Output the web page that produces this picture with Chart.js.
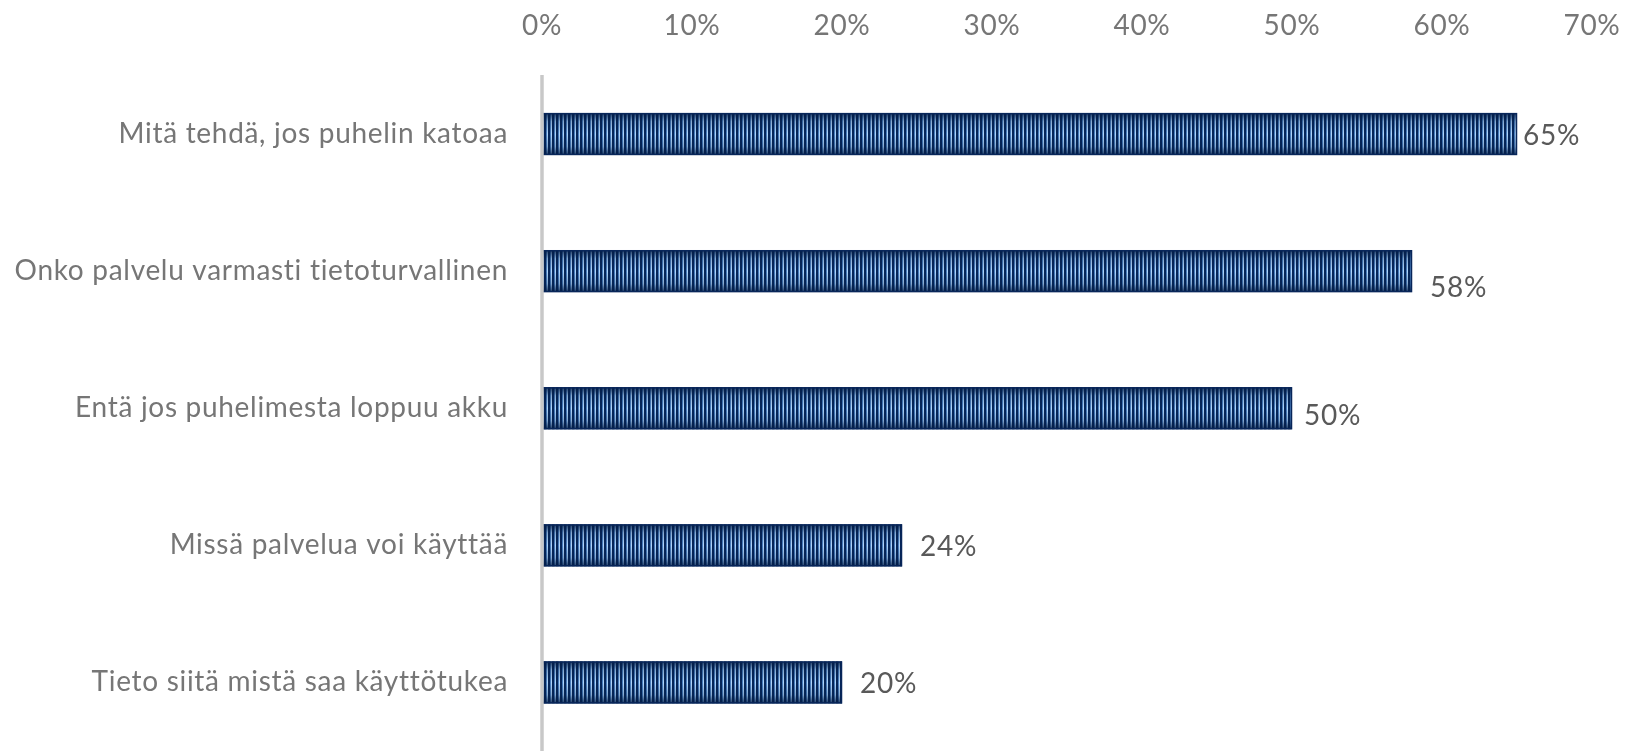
<!DOCTYPE html>
<html>
<head>
<meta charset="utf-8">
<script src="https://cdn.jsdelivr.net/npm/chart.js@4/dist/chart.umd.min.js"></script>
<style>
  html, body { margin: 0; padding: 0; background: #ffffff; }
  #wrap { width: 1644px; height: 751px; position: relative; }
</style>
</head>
<body>
<div id="wrap"><canvas id="c" width="1644" height="751"></canvas></div>
<script>
const categories = [
  "Mitä tehdä, jos puhelin katoaa",
  "Onko palvelu varmasti tietoturvallinen",
  "Entä jos puhelimesta loppuu akku",
  "Missä palvelua voi käyttää",
  "Tieto siitä mistä saa käyttötukea"
];
const values = [65, 58, 50, 24, 20];
const tickValues = [0, 10, 20, 30, 40, 50, 60, 70];

const FONT = "Lato, 'Open Sans', sans-serif";
const FONT_SIZE = 28;
const LETTER_SPACING = '0.7px';

// stripe pattern
function makeStripes() {
  const p = document.createElement('canvas');
  p.width = 4; p.height = 1;
  const g = p.getContext('2d');
  g.fillStyle = '#05265a';
  g.fillRect(0, 0, 4, 1);
  g.fillStyle = '#4a7fbf';
  g.fillRect(2, 0, 1, 1);
  g.fillStyle = '#b0d6fb';
  g.fillRect(3, 0, 1, 1);
  return document.getElementById('c').getContext('2d').createPattern(p, 'repeat');
}
const stripes = makeStripes();

// data labels offsets (style, in px relative to bar end / centre)
const labelStyle = { dx: [6, 18, 12, 18, 18], dyBaseline: [11, 26, 17, 11, 11] };

const spacingPlugin = {
  id: 'spacing',
  beforeDraw(chart) { chart.ctx.letterSpacing = LETTER_SPACING; }
};

const shadePlugin = {
  id: 'shade',
  afterDatasetsDraw(chart) {
    const ctx = chart.ctx;
    const meta = chart.getDatasetMeta(0);
    meta.data.forEach((bar, i) => {
      const p = bar.getProps(['x', 'y', 'base', 'height'], true);
      const top = p.y - p.height / 2, bot = p.y + p.height / 2;
      const left = Math.min(p.base, p.x), right = Math.max(p.base, p.x);
      const gr = ctx.createLinearGradient(0, top, 0, bot);
      gr.addColorStop(0, 'rgba(5,30,70,0.85)');
      gr.addColorStop(0.2, 'rgba(5,30,70,0.25)');
      gr.addColorStop(0.5, 'rgba(5,30,70,0)');
      gr.addColorStop(0.8, 'rgba(5,30,70,0.25)');
      gr.addColorStop(1, 'rgba(5,30,70,0.85)');
      ctx.save();
      ctx.fillStyle = gr;
      ctx.fillRect(left, top, right - left, bot - top);
      ctx.strokeStyle = '#08265a';
      ctx.lineWidth = 1.5;
      ctx.strokeRect(left + 0.5, top + 0.5, right - left - 1, bot - top - 1);
      ctx.restore();
    });
    // data labels
    ctx.save();
    ctx.letterSpacing = LETTER_SPACING;
    ctx.font = FONT_SIZE + 'px ' + FONT;
    ctx.fillStyle = '#595959';
    ctx.textAlign = 'left';
    ctx.textBaseline = 'alphabetic';
    meta.data.forEach((bar, i) => {
      const p = bar.getProps(['x', 'y'], true);
      ctx.fillText(values[i] + '%', p.x + labelStyle.dx[i], p.y + labelStyle.dyBaseline[i]);
    });
    ctx.restore();
    // vertical axis line
    const xs = chart.scales.x;
    const x0 = xs.getPixelForValue(0);
    ctx.save();
    ctx.strokeStyle = '#c8c8c8';
    ctx.lineWidth = 3.5;
    ctx.beginPath();
    ctx.moveTo(x0, 75);
    ctx.lineTo(x0, chart.height);
    ctx.stroke();
    ctx.restore();
  }
};

new Chart(document.getElementById('c'), {
  type: 'bar',
  data: {
    labels: categories,
    datasets: [{
      data: values,
      backgroundColor: stripes,
      borderWidth: 0,
      barPercentage: 0.305,
      categoryPercentage: 1.0
    }]
  },
  plugins: [spacingPlugin, shadePlugin],
  options: {
    indexAxis: 'y',
    responsive: false,
    animation: false,
    events: [],
    layout: { padding: { left: 0, right: 52, top: 0, bottom: 0 } },
    plugins: { legend: { display: false }, tooltip: { enabled: false } },
    scales: {
      x: {
        position: 'top',
        min: 0, max: 70,
        afterBuildTicks(scale) { scale.ticks = tickValues.map(v => ({ value: v })); },
        afterFit(scale) { scale.height = 65.5; },
        grid: { display: false, drawTicks: false },
        border: { display: false },
        ticks: {
          padding: 23,
          color: '#767676',
          font: { family: FONT, size: FONT_SIZE },
          callback: v => v + '%'
        }
      },
      y: {
        afterFit(scale) { scale.width = 542; scale.paddingTop = 0; scale.paddingBottom = 0; },
        grid: { display: false, drawTicks: false },
        border: { display: false },
        ticks: {
          padding: 34,
          color: '#767676',
          font: { family: FONT, size: FONT_SIZE }
        }
      }
    }
  }
});
</script>
</body>
</html>
